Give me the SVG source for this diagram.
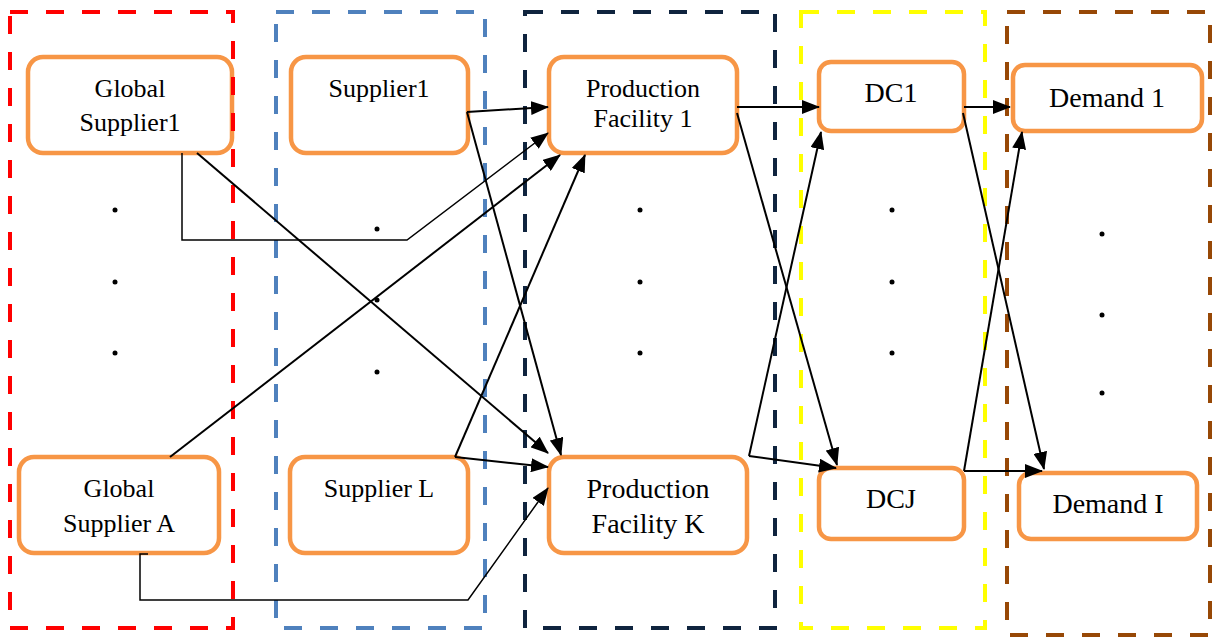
<svg xmlns="http://www.w3.org/2000/svg" width="1213" height="639" viewBox="0 0 1213 639">
<style>
.node rect{fill:#fff;stroke:#F79646;stroke-width:4.5}
.node text{font-family:"Liberation Serif","Times New Roman",serif;font-size:26px;fill:#000;text-anchor:middle}
.node text.big{font-size:28px}
.tier{fill:none;stroke-width:4;stroke-dasharray:18 18}
.dot{fill:#000}
#connectors line,#connectors polyline{fill:none;stroke:#000;stroke-width:2}
#connectors .thin{stroke-width:1.5}
</style>
<defs>
<marker id="arr" markerUnits="userSpaceOnUse" markerWidth="18" markerHeight="14" viewBox="0 0 18 14" refX="17" refY="7" orient="auto">
<path d="M0,0 L18,7 L0,14 z" fill="#000"/>
</marker>
</defs>
<rect width="1213" height="639" fill="#fff"/>

<g id="gs1" class="node"><rect x="28" y="57" width="204" height="96" rx="15"/><text x="130" y="97">Global</text><text x="130" y="131">Supplier1</text></g>
<g id="gsa" class="node"><rect x="19" y="457" width="200" height="96" rx="15"/><text x="119" y="497">Global</text><text x="119" y="532">Supplier A</text></g>
<g id="s1" class="node"><rect x="291" y="57" width="177" height="96" rx="15"/><text x="379" y="97">Supplier1</text></g>
<g id="sl" class="node"><rect x="290" y="457" width="178" height="96" rx="15"/><text x="379" y="497">Supplier L</text></g>
<g id="pf1" class="node"><rect x="549" y="57" width="188" height="96" rx="15"/><text x="643" y="97">Production</text><text x="643" y="127">Facility 1</text></g>
<g id="pfk" class="node"><rect x="549" y="457" width="198" height="96" rx="15"/><text class="big" x="648" y="498">Production</text><text class="big" x="648" y="533">Facility K</text></g>
<g id="dc1" class="node"><rect x="819" y="62" width="145" height="69" rx="12"/><text class="big" x="891" y="102">DC1</text></g>
<g id="dcj" class="node"><rect x="819" y="468" width="145" height="71" rx="12"/><text class="big" x="891" y="508">DCJ</text></g>
<g id="d1" class="node"><rect x="1013" y="65" width="189" height="66" rx="12"/><text class="big" x="1107" y="107">Demand 1</text></g>
<g id="di" class="node"><rect x="1019" y="473" width="178" height="66" rx="12"/><text class="big" x="1108" y="513">Demand I</text></g>

<g id="tiers">
<rect class="tier" x="10" y="12" width="223" height="616" stroke="#FF0000"/>
<rect class="tier" x="276" y="12" width="209" height="616" stroke="#4F81BD"/>
<rect class="tier" x="525" y="12" width="250" height="616" stroke="#0F243E"/>
<rect class="tier" x="801" y="12" width="184" height="616" stroke="#FFFF00"/>
<rect class="tier" x="1007" y="12" width="203" height="623" stroke="#974806"/>
</g>

<g id="dots">
<circle class="dot" cx="115" cy="210" r="2.5"/><circle class="dot" cx="115" cy="282" r="2.5"/><circle class="dot" cx="115" cy="353" r="2.5"/>
<circle class="dot" cx="377" cy="229" r="2.5"/><circle class="dot" cx="377" cy="300" r="2.5"/><circle class="dot" cx="377" cy="372" r="2.5"/>
<circle class="dot" cx="640" cy="210" r="2.5"/><circle class="dot" cx="640" cy="282" r="2.5"/><circle class="dot" cx="640" cy="353" r="2.5"/>
<circle class="dot" cx="892" cy="210" r="2.5"/><circle class="dot" cx="892" cy="282" r="2.5"/><circle class="dot" cx="892" cy="353" r="2.5"/>
<circle class="dot" cx="1102" cy="234" r="2.5"/><circle class="dot" cx="1102" cy="315" r="2.5"/><circle class="dot" cx="1102" cy="393" r="2.5"/>
</g>

<g id="connectors">
<polyline class="thin" points="182,153 182,240 407,240 548,133" marker-end="url(#arr)"/>
<line x1="197" y1="153" x2="548" y2="453" marker-end="url(#arr)"/>
<line x1="467" y1="112" x2="548" y2="107" marker-end="url(#arr)"/>
<line x1="467" y1="112" x2="561" y2="455" marker-end="url(#arr)"/>
<line x1="170" y1="457" x2="560" y2="155" marker-end="url(#arr)"/>
<polyline class="thin" points="148,554 140,554 140,600 468,600 548,488" marker-end="url(#arr)"/>
<line x1="455" y1="457" x2="585" y2="155" marker-end="url(#arr)"/>
<line x1="455" y1="457" x2="548" y2="467" marker-end="url(#arr)"/>
<line x1="737" y1="107" x2="819" y2="107" marker-end="url(#arr)"/>
<line x1="737" y1="113" x2="837" y2="465" marker-end="url(#arr)"/>
<line x1="749" y1="456" x2="821" y2="132" marker-end="url(#arr)"/>
<line x1="749" y1="456" x2="836" y2="468" marker-end="url(#arr)"/>
<line x1="964" y1="107" x2="1010" y2="107" marker-end="url(#arr)"/>
<line x1="963" y1="113" x2="1044" y2="469" marker-end="url(#arr)"/>
<line x1="964" y1="471" x2="1022" y2="132" marker-end="url(#arr)"/>
<line x1="964" y1="471" x2="1042" y2="471" marker-end="url(#arr)"/>
</g>
</svg>
